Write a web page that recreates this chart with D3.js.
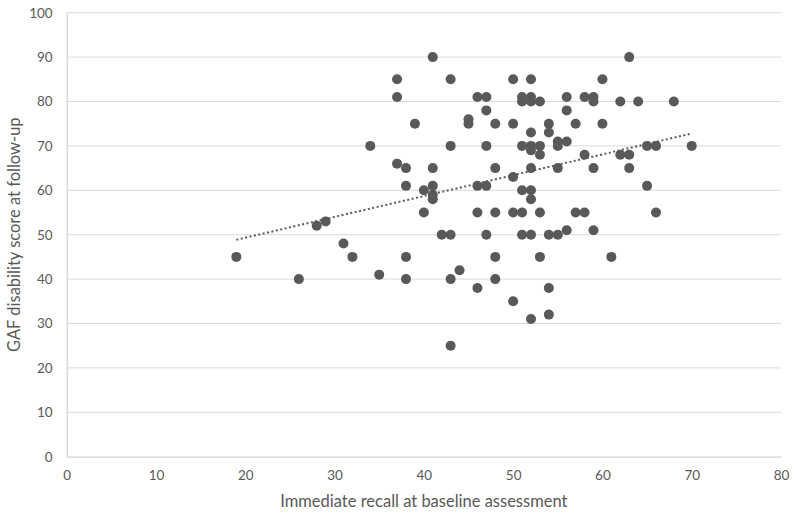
<!DOCTYPE html>
<html>
<head>
<meta charset="utf-8">
<script src="https://cdn.jsdelivr.net/npm/d3@7"></script>
<style>
  html, body { margin: 0; padding: 0; background: #fff; }
  svg { display: block; font-family: Lato, "Open Sans", sans-serif; }
</style>
</head>
<body>
<svg id="chart" width="798" height="516"></svg>
<script>
// Immediate recall at baseline (x) vs GAF disability score at follow-up (y)
const recallX = [19,26,28,29,31,32,34,35,
  37,37,37, 38,38,38,38, 39, 40,40,
  41,41,41,41,41, 42, 43,43,43,43,43, 44, 45,45,
  46,46,46,46, 47,47,47,47,47, 48,48,48,48,48,
  50,50,50,50,50, 51,51,51,51,51,51,
  52,52,52,52,52,52,52,52,52,52,52,
  53,53,53,53,53, 54,54,54,54,54, 55,55,55,55,
  56,56,56,56, 57,57, 58,58,58, 59,59,59,59, 60,60, 61,
  62,62, 63,63,63, 64, 65,65, 66,66, 68, 70];
const gafY = [45,40,52,53,48,45,70,41,
  85,81,66, 65,61,45,40, 75, 60,55,
  90,65,61,59,58, 50, 85,70,50,40,25, 42, 76,75,
  81,61,55,38, 81,78,70,61,50, 75,65,55,45,40,
  85,75,63,55,35, 81,80,70,60,55,50,
  85,81,80,73,70,69,65,60,58,50,31,
  80,70,68,55,45, 75,73,50,38,32, 71,70,65,50,
  81,78,71,51, 75,55, 81,68,55, 81,80,65,51, 85,75, 45,
  80,68, 90,68,65, 80, 70,61, 70,55, 80, 70];
const xTicks = [0,10,20,30,40,50,60,70,80];
const yTicks = [0,10,20,30,40,50,60,70,80,90,100];
const xTitle = "Immediate recall at baseline assessment";
const yTitle = "GAF disability score at follow-up";

(function () {
const points = recallX.map((x, i) => ({x, y: gafY[i]}));

const svg = d3.select("#chart");
const mLeft = 66.7, mRight = 781, mTop = 12.7, mBottom = 456.7;
const x = d3.scaleLinear().domain([0, 80]).range([mLeft, mRight]);
const y = d3.scaleLinear().domain([0, 100]).range([mBottom, mTop]);

const textColor = "#595959";
const gridColor = "#d9d9d9";

// gridlines
svg.append("g").selectAll("line").data(yTicks.filter(d => d > 0)).join("line")
  .attr("x1", mLeft).attr("x2", mRight)
  .attr("y1", d => y(d)).attr("y2", d => y(d))
  .attr("stroke", gridColor).attr("stroke-width", 1);

// axes
const xAxis = svg.append("g").attr("transform", `translate(0,${mBottom})`)
  .call(d3.axisBottom(x).tickValues(xTicks).tickSize(0).tickPadding(14));
xAxis.select(".domain").attr("stroke", "#d0d0d0").attr("stroke-width", 1.2);
xAxis.selectAll("text").attr("fill", textColor).attr("font-size", 13.5)
  .attr("font-family", "Lato, 'Open Sans', sans-serif");

const yAxis = svg.append("g").attr("transform", `translate(${mLeft},0)`)
  .call(d3.axisLeft(y).tickValues(yTicks).tickSize(0).tickPadding(14));
yAxis.select(".domain").attr("stroke", "#d0d0d0").attr("stroke-width", 1.2);
yAxis.selectAll("text").attr("fill", textColor).attr("font-size", 13.5)
  .attr("font-family", "Lato, 'Open Sans', sans-serif");

// linear trendline (least squares)
const mx = d3.mean(points, d => d.x), my = d3.mean(points, d => d.y);
const slope = d3.sum(points, d => (d.x - mx) * (d.y - my)) / d3.sum(points, d => (d.x - mx) ** 2);
const icpt = my - slope * mx;
const xr = d3.extent(points, d => d.x);

// points
svg.append("g").selectAll("circle").data(points).join("circle")
  .attr("cx", d => x(d.x)).attr("cy", d => y(d.y)).attr("r", 5)
  .attr("fill", "#595959");

svg.append("line")
  .attr("x1", x(xr[0])).attr("y1", y(icpt + slope * xr[0]))
  .attr("x2", x(xr[1])).attr("y2", y(icpt + slope * xr[1]))
  .attr("stroke", "#595959").attr("stroke-width", 2)
  .attr("stroke-dasharray", "2,2.5");

// titles
svg.append("text").attr("x", (mLeft + mRight) / 2).attr("y", 507)
  .attr("text-anchor", "middle").attr("fill", textColor).attr("font-size", 16.5)
  .text(xTitle);
svg.append("text")
  .attr("transform", `translate(20,${(mTop + mBottom) / 2}) rotate(-90)`)
  .attr("text-anchor", "middle").attr("fill", textColor).attr("font-size", 16.5)
  .text(yTitle);
})();
</script>
</body>
</html>
